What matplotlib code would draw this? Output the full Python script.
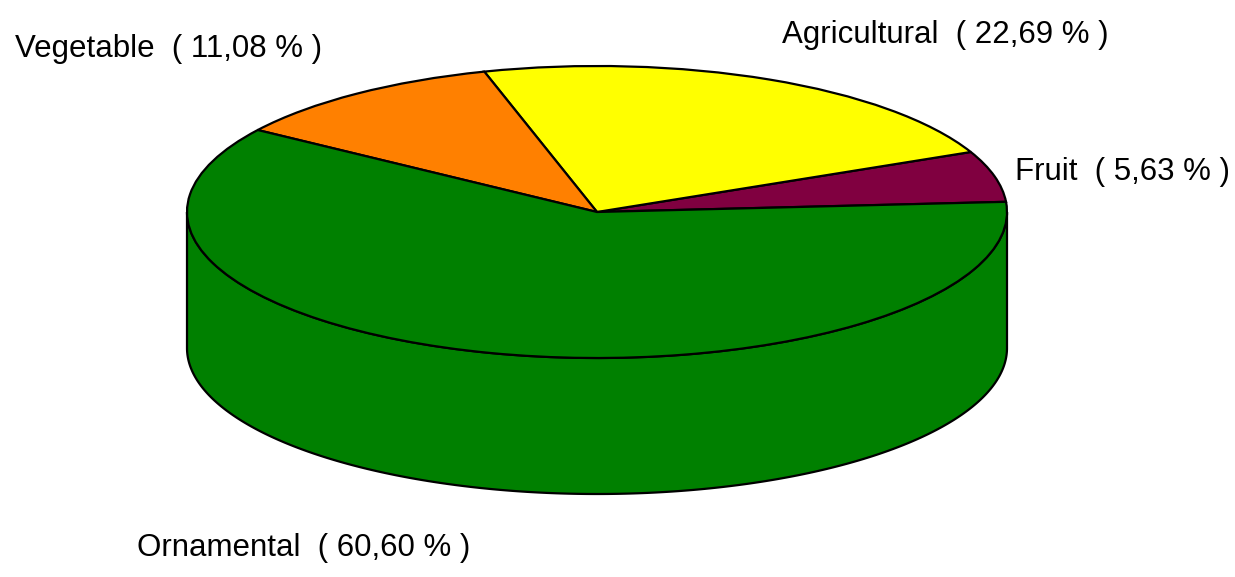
import matplotlib
matplotlib.use('Agg')
import matplotlib.pyplot as plt
import numpy as np
from matplotlib.transforms import Affine2D
from matplotlib.patches import Polygon

# ---- data ----
categories = ['Fruit', 'Agricultural', 'Vegetable', 'Ornamental']
shares = [5.63, 22.69, 11.08, 60.60]
colors = ['#800040', '#FFFF00', '#FF8000', '#008000']

# ---- layout (pixels) ----
W, H = 1235, 577
CX, CY = 597, 212      # centre of the top face
RX, RY = 410, 146      # semi-axes of the top face
DEPTH = 136            # thickness of the pie
START = 4              # start angle in degrees

label_pos = {
    'Fruit': (1015, 180),
    'Agricultural': (782, 43),
    'Vegetable': (15, 57),
    'Ornamental': (137, 556),
}

fig = plt.figure(figsize=(W / 100, H / 100), dpi=100)
ax = fig.add_axes([0, 0, 1, 1])

wedges, _ = ax.pie(shares, colors=colors, startangle=START, counterclock=True,
                   wedgeprops=dict(edgecolor='black', linewidth=1.6))

ax.set_xlim(0, W)
ax.set_ylim(H, 0)
ax.set_aspect('auto')
ax.axis('off')

pie_tr = Affine2D().scale(RX, -RY).translate(CX, CY) + ax.transData
for w in wedges:
    w.set_transform(pie_tr)
    w.set_zorder(3)

# side wall (front half belongs to the wedge covering 180..360 degrees)
theta = np.linspace(np.pi, 2 * np.pi, 300)
top = np.column_stack([np.cos(theta), np.sin(theta)])
bot = np.column_stack([np.cos(theta[::-1]), np.sin(theta[::-1]) - DEPTH / RY])
front_idx = None
cum = START
for i, s in enumerate(shares):
    a0, a1 = cum, cum + s * 3.6
    if a0 <= 270 <= a1 or a0 <= 270 + 360 <= a1:
        front_idx = i
    cum = a1
wall = Polygon(np.vstack([top, bot]), closed=True,
               facecolor=colors[front_idx], edgecolor='black',
               linewidth=1.6, transform=pie_tr, zorder=1)
ax.add_patch(wall)

for name, val in zip(categories, shares):
    txt = f"{name}  ( {val:.2f} % )".replace('.', ',')
    x, y = label_pos[name]
    ax.text(x, y, txt, ha='left', va='baseline', fontsize=22.5,
            family='Liberation Sans', color='black', zorder=5)

fig.savefig('out.png', dpi=100, facecolor='white')
